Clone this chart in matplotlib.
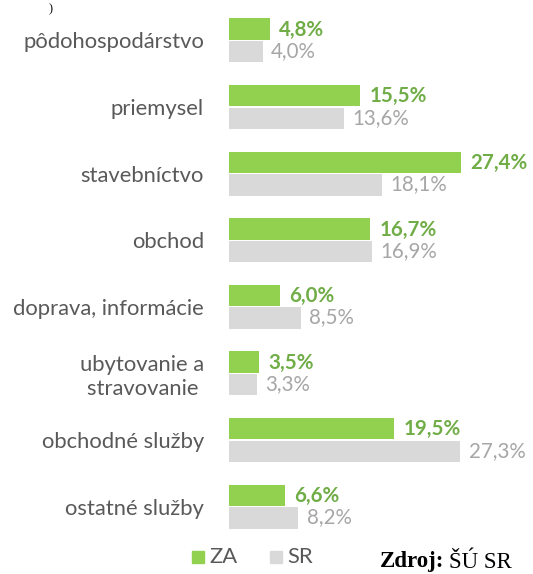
import matplotlib
matplotlib.use("Agg")
import matplotlib.pyplot as plt
import numpy as np

categories = ["pôdohospodárstvo", "priemysel", "stavebníctvo", "obchod",
              "doprava, informácie", "ubytovanie a\nstravovanie ", "obchodné služby",
              "ostatné služby"]
za = [4.8, 15.5, 27.4, 16.7, 6.0, 3.5, 19.5, 6.6]
sr = [4.0, 13.6, 18.1, 16.9, 8.5, 3.3, 27.3, 8.2]
series_names = ["ZA", "SR"]

C_ZA = "#92D050"
C_ZA_TXT = "#70AD47"
C_SR = "#D9D9D9"
C_SR_TXT = "#A6A6A6"
C_LBL = "#595959"
FONT = ["Lato", "DejaVu Sans"]
FS = 15.8


def fmt(v):
    return f"{v:.1f}%".replace(".", ",")


fig = plt.figure(figsize=(5.33, 5.74), dpi=100)
ax = fig.add_axes([229 / 533, 34 / 574, 304 / 533, 533 / 574])

y = np.arange(len(categories))
h = 0.32
ax.barh(y - h / 2 - 0.01, za, height=h, color=C_ZA, label=series_names[0])
ax.barh(y + h / 2 + 0.01, sr, height=h, color=C_SR, label=series_names[1])

for yi, v in zip(y, za):
    ax.annotate(fmt(v), (v, yi - h / 2), xytext=(7, 0), textcoords="offset points",
                ha="left", va="center", fontsize=14.8, fontweight="bold",
                color=C_ZA_TXT, family=FONT)
for yi, v in zip(y, sr):
    ax.annotate(fmt(v), (v, yi + h / 2), xytext=(6, 0), textcoords="offset points",
                ha="left", va="center", fontsize=14.8, color=C_SR_TXT, family=FONT)

ax.set_xlim(0, 35.9)
ax.set_ylim(len(categories) - 0.5, -0.5)
ax.set_yticks(y)
ax.set_yticklabels(categories, fontsize=FS, color=C_LBL, family=FONT, linespacing=1.25)
ax.tick_params(axis="y", length=0, pad=18)
ax.set_xticks([])
for s in ax.spines.values():
    s.set_visible(False)

# legend
fig.patches.append(plt.Rectangle((192 / 533, 1 - 563 / 574), 12 / 533, 12 / 574,
                                 transform=fig.transFigure, color=C_ZA))
fig.text(209 / 533, 1 - 557 / 574, "ZA", fontsize=FS, color=C_LBL, family=FONT, va="center")
fig.patches.append(plt.Rectangle((270 / 533, 1 - 563 / 574), 12 / 533, 12 / 574,
                                 transform=fig.transFigure, color=C_SR))
fig.text(287 / 533, 1 - 557 / 574, "SR", fontsize=FS, color=C_LBL, family=FONT, va="center")

t1 = fig.text(380 / 533, 1 - 562 / 574, "Zdroj:", fontsize=16.5, fontweight="bold",
              family="Liberation Serif", va="center")
fig.canvas.draw()
bb = t1.get_window_extent()
fig.text((bb.x1 + 5) / 533, 1 - 562 / 574, "ŠÚ SR", fontsize=16.5,
         family="Liberation Serif", va="center")
fig.text(49 / 533, 1 - 9 / 574, ")", fontsize=9, family="Liberation Serif", va="center")

fig.savefig("out.png", dpi=100, facecolor="white")
